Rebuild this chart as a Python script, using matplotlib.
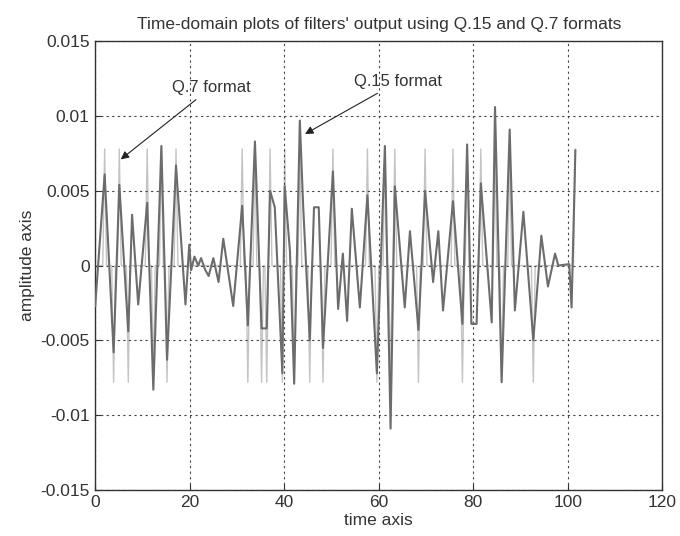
import matplotlib
matplotlib.use("Agg")
import matplotlib.pyplot as plt

# ---- data ----
# Q.15 output (dark line): vertices (time, amplitude)
q15_t = [0.0, 2.0, 3.9, 5.1, 7.0, 7.8, 9.1, 11.0, 12.3, 14.0, 15.2, 17.1, 19.1,
         19.9, 20.3, 21.0, 21.8, 22.4, 23.3, 24.0, 25.0, 26.1, 27.1, 29.2,
         31.1, 32.3, 33.8, 35.2, 36.3, 37.0, 38.0, 39.6, 40.1, 41.2, 42.1,
         43.3, 44.0, 45.4, 46.3, 47.3, 48.2, 50.3, 51.4, 52.4, 53.3, 54.3,
         56.0, 57.6, 59.6, 61.3, 62.5, 63.4, 65.5, 66.6, 68.4, 69.8, 71.5,
         72.6, 73.6, 75.7, 77.7, 78.7, 79.6, 80.7, 81.6, 83.9, 84.6, 86.0,
         87.7, 88.8, 90.6, 92.7, 94.4, 95.8, 97.3, 98.0, 100.3, 100.8, 101.6]
q15_v = [-0.0027, 0.0061, -0.0058, 0.0054, -0.0044, 0.0034, -0.0026, 0.0042,
         -0.0083, 0.0080, -0.0063, 0.0067, -0.0026,
         0.0014, -0.0003, 0.0006, 0.0000, 0.0005, -0.0003, -0.0007, 0.0005,
         -0.0011, 0.0018, -0.0027,
         0.0040, -0.0040, 0.0083, -0.0042, -0.0042, 0.0050, 0.0039, -0.0072,
         0.0053, 0.0010, -0.0079,
         0.0097, 0.0040, -0.0050, 0.0039, 0.0039, -0.0055, 0.0063, -0.0029,
         0.0008, -0.0037, 0.0038,
         -0.0028, 0.0047, -0.0072, 0.0080, -0.0109, 0.0053, -0.0028, 0.0023,
         -0.0043, 0.0050, -0.0011,
         0.0023, -0.0030, 0.0043, -0.0039, 0.0081, -0.0039, -0.0039, 0.0055,
         -0.0038, 0.0106, -0.0078,
         0.0091, -0.0030, 0.0036, -0.0050, 0.0020, -0.0014, 0.0008, 0.0000,
         0.0001, -0.0028, 0.0077]

# Q.7 output (light line): zero except narrow spikes of +/- 1/128
q7_spike_t = [2.0, 3.9, 5.1, 7.0, 11.0, 12.3, 14.0, 15.2, 17.1,
              31.1, 32.3, 33.8, 35.2, 36.3, 37.0, 39.6, 40.1, 42.1, 43.3,
              45.4, 48.2, 50.3, 57.6, 59.6, 61.3, 62.5, 63.4, 68.4, 69.8,
              75.7, 77.7, 78.7, 81.6, 84.6, 86.0, 87.7, 92.7, 101.6]
q7_spike_v = [0.0078, -0.0078, 0.0078, -0.0078, 0.0078, -0.0078, 0.0078, -0.0078, 0.0078,
              0.0078, -0.0078, 0.0078, -0.0078, -0.0078, 0.0078, -0.0078, 0.0078, -0.0078, 0.0078,
              -0.0078, -0.0078, 0.0078, 0.0078, -0.0078, 0.0078, -0.0078, 0.0078, -0.0078, 0.0078,
              0.0078, -0.0078, 0.0078, 0.0078, 0.0078, -0.0078, 0.0078, -0.0078, 0.0078]
q7_start = 0.0

x_ticks = [0, 20, 40, 60, 80, 100, 120]
y_ticks = [-0.015, -0.01, -0.005, 0, 0.005, 0.01, 0.015]
y_tick_labels = ["-0.015", "-0.01", "-0.005", "0", "0.005", "0.01", "0.015"]

# build the Q.7 polyline (zero baseline with narrow spikes)
q7_t, q7_v = [q7_start], [0.0]
n = len(q7_spike_t)
for i, (t, v) in enumerate(zip(q7_spike_t, q7_spike_v)):
    left = t - 0.4
    if i > 0:
        left = max(left, (q7_spike_t[i - 1] + t) / 2)
    q7_t += [left, t]
    q7_v += [0.0, v]
    if i < n - 1:
        right = min(t + 0.4, (q7_spike_t[i + 1] + t) / 2)
        q7_t.append(right)
        q7_v.append(0.0)

plt.rcParams['font.family'] = ['Liberation Sans', 'DejaVu Sans']

fig = plt.figure(figsize=(6.8, 5.36), dpi=100)
ax = fig.add_axes([0.140, 0.086, 0.834, 0.837])

ax.plot(q7_t, q7_v, color='#c4c4c4', lw=1.0, zorder=1.4)
ax.plot(q15_t, q15_v, color='#6c6c6c', lw=1.5, zorder=3)

ax.set_xlim(0, 120)
ax.set_ylim(-0.015, 0.015)
ax.set_xticks(x_ticks)
ax.set_yticks(y_ticks)
ax.set_yticklabels(y_tick_labels)
ax.tick_params(direction='in', length=4, labelsize=12.5, colors='#333333', pad=4)
ax.grid(True, color='#444444', linestyle=(0, (2, 3)), lw=0.8)
for s in ax.spines.values():
    s.set_color('#333333')
    s.set_linewidth(1.0)

ax.set_title("Time-domain plots of filters' output using Q.15 and Q.7 formats",
             fontsize=12.5, color='#333333', pad=9)
ax.set_xlabel("time axis", fontsize=12.5, color='#333333', labelpad=2)
ax.set_ylabel("amplitude axis", fontsize=12.5, color='#333333', labelpad=4)

ax.annotate("Q.7 format", xy=(5.4, 0.0071), xytext=(16.2, 0.0119),
            fontsize=12, color='#333333', va='center', ha='left',
            arrowprops=dict(arrowstyle='-|>', color='#222222', lw=0.8,
                            mutation_scale=12, shrinkA=2, shrinkB=0))
ax.annotate("Q.15 format", xy=(44.4, 0.0088), xytext=(54.8, 0.0123),
            fontsize=12, color='#333333', va='center', ha='left',
            arrowprops=dict(arrowstyle='-|>', color='#222222', lw=0.8,
                            mutation_scale=12, shrinkA=2, shrinkB=0))

fig.savefig("out.png", dpi=100)
